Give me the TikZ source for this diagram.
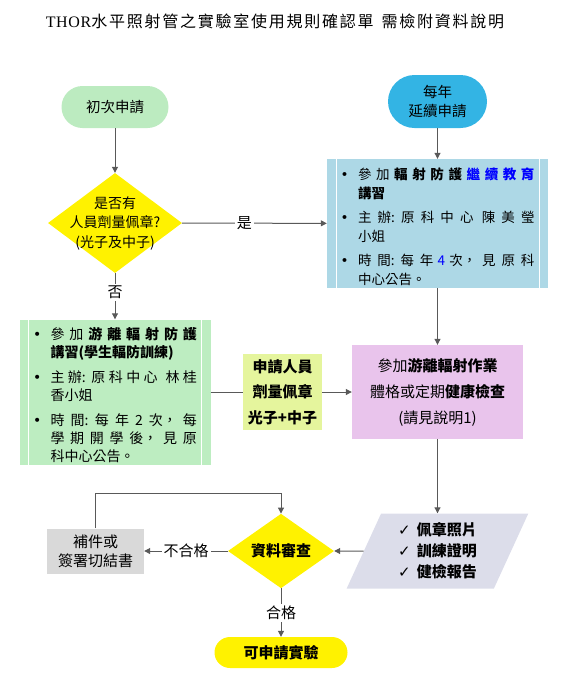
\documentclass[tikz,border=0pt]{standalone}
\usepackage{fontspec}
\setmainfont{Noto Sans CJK TC}
\newfontfamily\titlefont{Noto Sans CJK TC}[LetterSpace=11]
\newfontfamily\thorfont{Liberation Serif}[LetterSpace=4]
\newfontfamily\tickfont{DejaVu Sans}
\usetikzlibrary{shapes.geometric, arrows.meta}
\XeTeXlinebreaklocale "zh"
\XeTeXlinebreakskip=0pt plus 8pt
\definecolor{pillgreen}{HTML}{BCEBC0}
\definecolor{pillblue}{HTML}{33B4E4}
\definecolor{boxblue}{HTML}{ADD8E6}
\definecolor{boxgreen}{HTML}{BDEDC1}
\definecolor{badgelime}{HTML}{E5F59D}
\definecolor{boxpurple}{HTML}{E9C4EC}
\definecolor{docgray}{HTML}{DCDDEA}
\definecolor{fixgray}{HTML}{D9D9D9}
\definecolor{linegray}{HTML}{595959}
\newcommand\bitem[1][0pt]{\par\vspace{#1}\hangindent=17.5pt\hangafter=1\noindent\hbox to 17.5pt{{\tickfont\mdseries •}\hfil}\ignorespaces}
\newcommand\cjkgap{\hskip 0pt plus 8pt\relax}
\tikzset{
    every node/.style={inner sep=0pt, font=\fontsize{14}{18}\selectfont}
}
\tikzset{
    every edge/.append style={draw=linegray, line width=1pt}
}
\tikzset{
    pill/.style={rectangle, rounded corners=#1},
    decide/.style={diamond, fill=yellow},
    flow/.style={draw=linegray, line width=1pt},
    tag/.style={fill=white, font=\fontsize{15}{18}\selectfont},
    subproc/.style={rectangle, align=justify, inner xsep=13.5pt,
        path picture={\draw[white, line width=1pt]
            ([xshift=9pt]path picture bounding box.north west) -- ([xshift=9pt]path picture bounding box.south west)
            ([xshift=-9pt]path picture bounding box.north east) -- ([xshift=-9pt]path picture bounding box.south east);}}
}

\begin{document}
\begin{tikzpicture}[x=1pt, y=-1pt, >={Triangle[length=6pt,width=6pt]}]
  \useasboundingbox (0,0) rectangle (575,681);

  \node (title) at (275,21) {\fontsize{16}{18}\selectfont{\thorfont THOR}\titlefont 水平照射管之實驗室使用規則確認單\hspace{8pt}需檢附資料說明};

  \node (first) [pill=21pt, fill=pillgreen, minimum width=107pt, minimum height=42pt, font=\fontsize{14.5}{18}\selectfont] at (115,107) {初次申請};
  \node (renew) [pill=26.5pt, fill=pillblue, minimum width=99pt, minimum height=53pt, align=center, font=\fontsize{14.5}{19}\selectfont] at (437.5,101.5) {每年\\延續申請};

  \node (check) [decide, minimum width=134pt, minimum height=100pt,
    label={[align=center, font=\fontsize{14}{19.5}\selectfont]center:{是否有\\人員劑量佩章?\\(光子及中子)}}] at (115,223) {};

  \node (renewbox) [subproc, fill=boxblue, text width=194pt, minimum height=129pt, font=\fontsize{13.5}{19}\selectfont] at (437.5,223.5) {
    \bitem 參加\cjkgap{\bfseries 輻射防護\cjkgap\textcolor{blue}{繼續教育}}\linebreak{\bfseries 講習}
    \bitem[5pt] 主辦: 原科中心\hspace{4pt} 陳美瑩\linebreak 小姐
    \bitem[5pt] 時間:每年 \textcolor{blue}{4} 次，見原科\linebreak 中心公告。\par};

  \node (trainbox) [subproc, fill=boxgreen, text width=164pt, minimum height=145pt, font=\fontsize{14}{18}\selectfont] at (115,392) {
    \bitem 參加\cjkgap{\bfseries 游離輻射防護}\linebreak{\bfseries 講習(學生輻防訓練)}
    \bitem[7pt] 主辦: 原科中心\hspace{4pt} 林桂\linebreak 香小姐
    \bitem[7pt] 時間: 每年2次，每\linebreak 學期開學後，見原\linebreak 科中心公告。\par};

  \node (badge) [fill=badgelime, minimum width=79pt, minimum height=76pt, align=center, font=\bfseries\fontsize{15}{25.5}\selectfont] at (282.5,392) {申請人員\\劑量佩章\\光子+中子};
  \node (exam) [fill=boxpurple, minimum width=171pt, minimum height=94pt, align=center, font=\fontsize{15}{26}\selectfont] at (437.5,392) {參加{\bfseries 游離輻射作業}\\體格或定期{\bfseries 健康檢查}\\(請見說明1)};

  \node (docs) [trapezium, trapezium left angle=67, trapezium right angle=113, trapezium stretches=true, fill=docgray, minimum width=182pt, minimum height=75pt, align=left, font=\bfseries\fontsize{15}{21}\selectfont] at (437.5,551) {{\tickfont ✓}\hspace{6pt}佩章照片\\{\tickfont ✓}\hspace{6pt}訓練證明\\{\tickfont ✓}\hspace{6pt}健檢報告};
  \node (review) [decide, minimum width=106pt, minimum height=62pt, font=\bfseries\fontsize{15}{18}\selectfont] at (281,551) {資料審查};
  \node (fix) [fill=fixgray, minimum width=97pt, minimum height=45pt, align=center, font=\fontsize{15}{19}\selectfont] at (95.5,551) {補件或\\簽署切結書};
  \node (done) [pill=15.5pt, fill=yellow, minimum width=133pt, minimum height=31pt, font=\bfseries\fontsize{15}{18}\selectfont] at (281,652.5) {可申請實驗};

  \draw (first) edge[->] (check);
  \draw (check) edge[->] node[tag, pos=.43, inner xsep=2pt] {是} (renewbox);
  \draw (check) edge[->] node[tag, pos=.42, inner ysep=2pt] {否} (trainbox);
  \draw (renew) edge[->] (renewbox);
  \draw (renewbox) edge[->] (exam);
  \draw (trainbox) edge (badge);
  \draw (badge) edge[->] (exam);
  \draw (exam) edge[->] (docs);
  \draw (docs) edge[->] (review);
  \draw (review) edge[->] node[tag, inner xsep=2pt] {不合格} (fix);
  \draw (review) edge[->] node[tag, inner ysep=2pt] {合格} (done);
  \draw[flow, ->] (fix.north) -- ++(0,-35) -| (review.north);
\end{tikzpicture}
\end{document}
